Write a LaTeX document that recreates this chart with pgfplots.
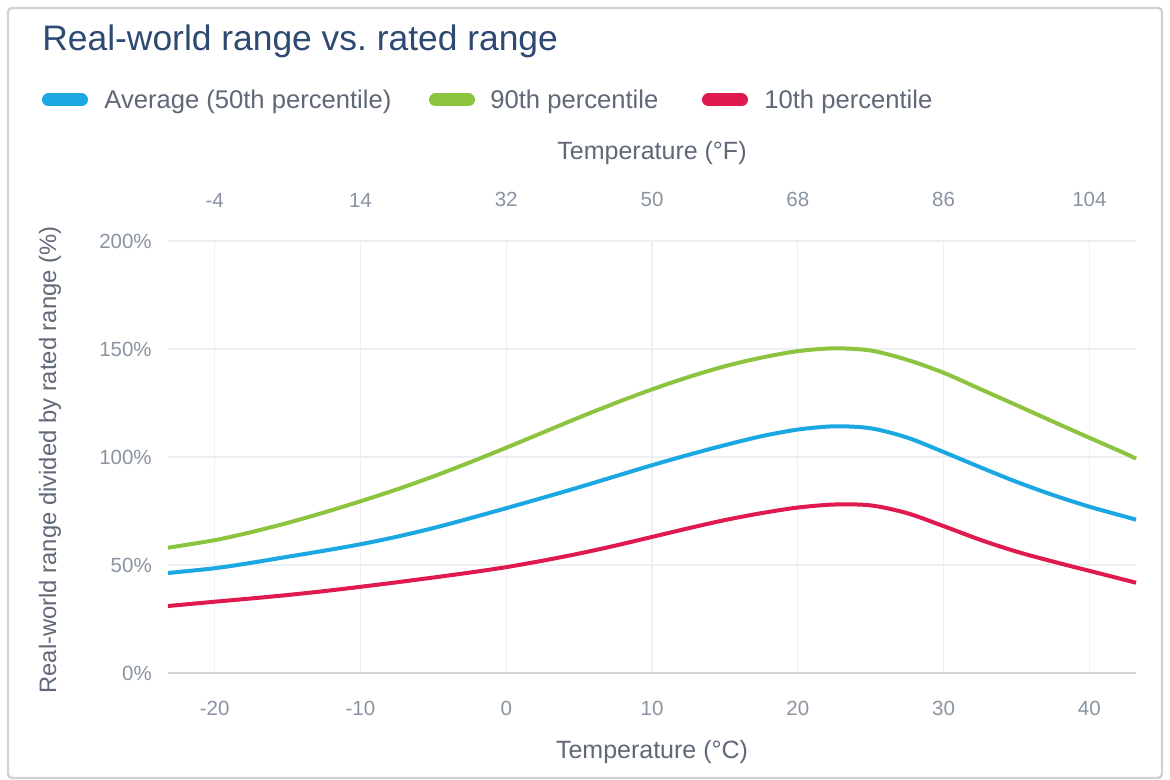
\documentclass[border=0pt]{standalone}
\usepackage{fontspec}
\setmainfont{Liberation Sans}
\usepackage{pgfplots}
\pgfplotsset{compat=1.18}

\definecolor{cblue}{HTML}{1BA8E2}
\definecolor{cgreen}{HTML}{8CC43F}
\definecolor{cred}{HTML}{E0194E}
\definecolor{ctitle}{HTML}{2E4A72}
\definecolor{clegend}{HTML}{5E6876}
\definecolor{ctick}{HTML}{8A94A1}
\definecolor{caxlabel}{HTML}{5F6977}
\definecolor{cgrid}{HTML}{EDEFF2}
\definecolor{caxis}{HTML}{D3D7DC}
\definecolor{cframe}{HTML}{D2D2D2}

\pgfplotstableread{
t green blue red
-23.2 58.0 46.3 31.0
-20 61.5 48.5 33.0
-17.5 65.2 51.0 34.5
-15 69.5 53.8 36.1
-12.5 74.3 56.6 37.9
-10 79.5 59.6 39.9
-7.5 85.0 63.1 42.0
-5 91.0 67.1 44.2
-2.5 97.5 71.6 46.5
0 104.3 76.3 49.0
2.5 111.3 81.1 52.0
5 118.3 86.0 55.3
7.5 125.0 91.1 59.0
10 131.3 96.2 63.0
12.5 137.0 101.0 67.0
15 142.0 105.5 70.8
17.5 146.0 109.6 74.0
20 149.0 112.7 76.6
22.5 150.3 114.2 78.0
25 149.3 113.3 77.6
27.5 145.0 109.0 74.0
30 139.0 102.3 68.0
32.5 131.5 95.3 61.7
35 124.0 88.5 56.2
37.5 116.4 82.4 51.6
40 108.9 77.0 47.3
42.5 101.5 72.3 43.0
43.2 99.2 71.0 41.8
}\datatable

\begin{document}
\begin{tikzpicture}[x=1pt,y=1pt]
\fill[white] (0,0) rectangle (585,390);
\draw[cframe, line width=1.2pt, rounded corners=2pt] (4,1) rectangle (581,386);

% title
\node[anchor=base west, inner sep=0, color=ctitle, font=\fontsize{17.7}{20}\selectfont] at (21,364.75) {Real-world range vs.\ rated range};

% legend
\draw[cblue, line width=6.5pt, line cap=round] (24.25,340) -- (40.75,340);
\node[anchor=base west, inner sep=0, color=clegend, font=\fontsize{12.8}{15}\selectfont] at (52,335.5) {Average (50th percentile)};
\draw[cgreen, line width=6.5pt, line cap=round] (217.75,340) -- (234.25,340);
\node[anchor=base west, inner sep=0, color=clegend, font=\fontsize{12.8}{15}\selectfont] at (245,335.5) {90th percentile};
\draw[cred, line width=6.5pt, line cap=round] (354.25,340) -- (370.75,340);
\node[anchor=base west, inner sep=0, color=clegend, font=\fontsize{12.8}{15}\selectfont] at (382,335.5) {10th percentile};

\begin{axis}[
  at={(84pt,53.5pt)}, anchor=south west,
  width=484pt, height=216pt, scale only axis,
  xmin=-23.2, xmax=43.2, ymin=0, ymax=200,
  xtick={-20,-10,0,10,20,30,40},
  xticklabels={-20,-10,0,10,20,30,40},
  ytick={0,50,100,150,200},
  yticklabels={0\%,50\%,100\%,150\%,200\%},
  grid=major,
  grid style={cgrid, line width=0.7pt},
  axis line style={draw=none},
  major tick length=0pt,
  tick label style={color=ctick, font=\fontsize{10.25}{12}\selectfont},
  /pgf/number format/assume math mode=true,
  xticklabel style={yshift=-10.4pt},
  yticklabel style={xshift=-4.6pt},
  extra y ticks={0},
  extra y tick labels={},
  extra y tick style={grid style={caxis, line width=0.9pt}},
  clip=false,
]
\addplot[cgreen, line width=2pt, smooth, tension=0.5] table[x=t, y=green] {\datatable};
\addplot[cblue, line width=2pt, smooth, tension=0.5] table[x=t, y=blue] {\datatable};
\addplot[cred, line width=2pt, smooth, tension=0.5] table[x=t, y=red] {\datatable};
\end{axis}

\begin{axis}[
  at={(84pt,53.5pt)}, anchor=south west,
  width=484pt, height=216pt, scale only axis,
  xmin=-9.76, xmax=109.76, ymin=0, ymax=200,
  xtick={-4,14,32,50,68,86,104},
  xticklabels={-4,14,32,50,68,86,104},
  ytick=\empty,
  xticklabel pos=upper,
  axis line style={draw=none},
  major tick length=0pt,
  tick label style={color=ctick, font=\fontsize{10.25}{12}\selectfont},
  /pgf/number format/assume math mode=true,
  xticklabel style={yshift=13.4pt},
]
\end{axis}

% axis titles
\node[color=caxlabel, font=\fontsize{12.5}{15}\selectfont] at (326,313.5) {Temperature (°F)};
\node[color=caxlabel, font=\fontsize{12.5}{15}\selectfont] at (326,14) {Temperature (°C)};
\node[rotate=90, color=caxlabel, font=\fontsize{11.9}{14}\selectfont] at (25,160) {Real-world range divided by rated range (\%)};
\end{tikzpicture}
\end{document}
